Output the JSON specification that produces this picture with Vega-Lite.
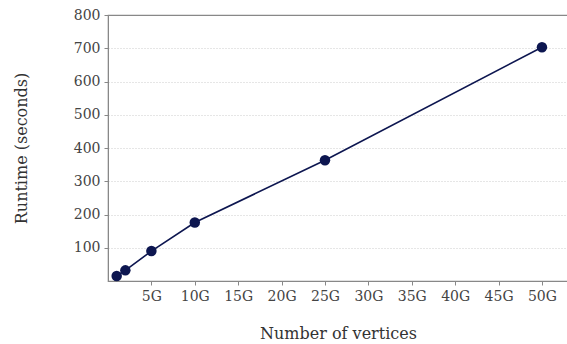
{
  "$schema": "https://vega.github.io/schema/vega-lite/v6.json",
  "autosize": "none",
  "width": 460,
  "height": 266,
  "padding": {"left": 108, "top": 15, "right": 0, "bottom": 63},
  "background": "white",
  "config": {
    "view": {"stroke": "#888", "strokeWidth": 1.2},
    "font": "DejaVu Serif",
    "axis": {
      "labelFont": "DejaVu Serif",
      "titleFont": "DejaVu Serif",
      "labelFontSize": 14,
      "titleFontSize": 16,
      "titleFontWeight": "normal",
      "labelColor": "#444",
      "titleColor": "#333",
      "domainColor": "#888",
      "tickColor": "#888",
      "tickSize": 4
    }
  },
  "data": {
    "values": [
      {"vertices": 1, "runtime": 15},
      {"vertices": 2, "runtime": 32},
      {"vertices": 5, "runtime": 90},
      {"vertices": 10, "runtime": 176},
      {"vertices": 25, "runtime": 363},
      {"vertices": 50, "runtime": 703}
    ]
  },
  "encoding": {
    "x": {
      "field": "vertices",
      "type": "quantitative",
      "scale": {"domain": [0, 53], "nice": false, "zero": false},
      "axis": {
        "title": "Number of vertices",
        "values": [5, 10, 15, 20, 25, 30, 35, 40, 45, 50],
        "labelExpr": "datum.value + 'G'",
        "grid": false,
        "titlePadding": 22,
        "labelPadding": 4
      }
    },
    "y": {
      "field": "runtime",
      "type": "quantitative",
      "scale": {"domain": [0, 800], "nice": false},
      "axis": {
        "title": "Runtime (seconds)",
        "values": [100, 200, 300, 400, 500, 600, 700, 800],
        "grid": true,
        "gridColor": {"condition": {"test": "datum.value === 800", "value": "#888"}, "value": "#ccc"},
        "gridDash": {"condition": {"test": "datum.value === 800", "value": []}, "value": [1, 2]},
        "titlePadding": 44,
        "labelPadding": 4
      }
    }
  },
  "layer": [
    {"mark": {"type": "line", "color": "#0d1650", "strokeWidth": 1.6}},
    {"mark": {"type": "point", "filled": true, "color": "#0d1650", "size": 110, "opacity": 1}}
  ]
}
